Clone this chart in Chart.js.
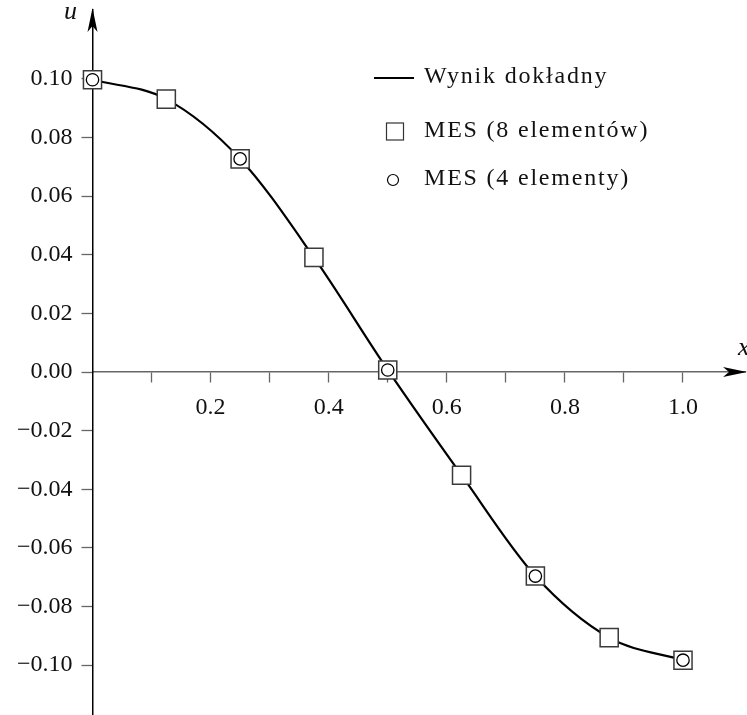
<!DOCTYPE html>
<html>
<head>
<meta charset="utf-8">
<script src="https://cdn.jsdelivr.net/npm/chart.js@4.4.1/dist/chart.umd.min.js"></script>
<style>
  html, body { margin: 0; padding: 0; background: #fff; }
  #wrap { width: 747px; height: 715px; }
</style>
</head>
<body>
<div id="wrap"><canvas id="c" width="747" height="715"></canvas></div>
<script>
// ---- data ----
const exactX = [0, 0.125, 0.25, 0.375, 0.5, 0.625, 0.75, 0.875, 1.0];
const exactU = [0.0997, 0.0931, 0.0727, 0.0391, 0.0007, -0.0352, -0.0696, -0.0906, -0.0983];
const fem8X = [0, 0.125, 0.25, 0.375, 0.5, 0.625, 0.75, 0.875, 1.0];
const fem8U = [0.0997, 0.0931, 0.0727, 0.0391, 0.0007, -0.0352, -0.0696, -0.0906, -0.0983];
const fem4X = [0, 0.25, 0.5, 0.75, 1.0];
const fem4U = [0.0997, 0.0727, 0.0007, -0.0696, -0.0983];
const xTicks = [0.1, 0.2, 0.3, 0.4, 0.5, 0.6, 0.7, 0.8, 0.9, 1.0];
const xTickLabels = ['', '0.2', '', '0.4', '', '0.6', '', '0.8', '', '1.0'];
const yTicks = [-0.10, -0.08, -0.06, -0.04, -0.02, 0.00, 0.02, 0.04, 0.06, 0.08, 0.10];
const legendLabels = ['Wynik dokładny', 'MES (8 elementów)', 'MES (4 elementy)'];

const FONT = "'Liberation Serif', 'DejaVu Serif', serif";
const pts = (xs, ys) => xs.map((x, i) => ({ x: x, y: ys[i] }));
const noPad = s => { s.paddingTop = 0; s.paddingBottom = 0; s.paddingLeft = 0; s.paddingRight = 0; };

const decor = {
  id: 'decor',
  afterDraw(chart) {
    const ctx = chart.ctx;
    const xs = chart.scales.x, ys = chart.scales.y;
    const ax = xs.getPixelForValue(0);
    const ay = ys.getPixelForValue(0);
    const top = chart.chartArea.top;
    const right = chart.chartArea.right;
    ctx.save();
    ctx.fillStyle = '#000';
    // y arrow (stealth)
    ctx.beginPath();
    ctx.moveTo(ax, top - 2);
    ctx.lineTo(ax + 5, top + 22);
    ctx.lineTo(ax, top + 16);
    ctx.lineTo(ax - 5, top + 22);
    ctx.closePath();
    ctx.fill();
    // x arrow
    ctx.beginPath();
    ctx.moveTo(right + 2, ay);
    ctx.lineTo(right - 22, ay - 5);
    ctx.lineTo(right - 16, ay);
    ctx.lineTo(right - 22, ay + 5);
    ctx.closePath();
    ctx.fill();
    // axis titles
    ctx.fillStyle = '#111';
    ctx.font = "italic 26px " + FONT;
    ctx.textBaseline = 'middle';
    ctx.textAlign = 'center';
    ctx.fillText('u', ax - 22, top + 2);
    ctx.textAlign = 'left';
    ctx.fillText('x', right - 7, ay - 24);

    // legend
    ctx.font = "24px " + FONT;
    ctx.fillStyle = '#111';
    ctx.textAlign = 'left';
    ctx.textBaseline = 'middle';
    try { ctx.letterSpacing = '1.8px'; } catch (e) {}
    const tx = 424;
    const rows = [77, 131, 179];
    ctx.strokeStyle = '#000';
    ctx.lineWidth = 2;
    ctx.beginPath();
    ctx.moveTo(374, rows[0] + 1);
    ctx.lineTo(414, rows[0] + 1);
    ctx.stroke();
    ctx.fillText(legendLabels[0], tx, rows[0]);
    ctx.strokeStyle = '#333';
    ctx.lineWidth = 1.2;
    ctx.strokeRect(386.5, rows[1] - 8, 17, 17);
    ctx.fillText(legendLabels[1], tx, rows[1]);
    ctx.strokeStyle = '#000';
    ctx.beginPath();
    ctx.arc(393, rows[2] + 1, 5.5, 0, Math.PI * 2);
    ctx.stroke();
    ctx.fillText(legendLabels[2], tx, rows[2]);
    ctx.restore();
  }
};

new Chart(document.getElementById('c'), {
  type: 'scatter',
  data: {
    datasets: [
      {
        label: legendLabels[0],
        data: pts(exactX, exactU),
        showLine: true,
        borderColor: '#000',
        borderWidth: 2.2,
        pointRadius: 0,
        cubicInterpolationMode: 'monotone',
        order: 3,
        clip: false
      },
      {
        label: legendLabels[1],
        data: pts(fem8X, fem8U),
        showLine: false,
        pointStyle: 'rect',
        pointRadius: 12.8,
        pointBackgroundColor: '#fff',
        pointBorderColor: '#3a3a3a',
        pointBorderWidth: 1.5,
        order: 2,
        clip: false
      },
      {
        label: legendLabels[2],
        data: pts(fem4X, fem4U),
        showLine: false,
        pointStyle: 'circle',
        pointRadius: 6.2,
        pointBackgroundColor: '#fff',
        pointBorderColor: '#000',
        pointBorderWidth: 1.3,
        order: 1,
        clip: false
      }
    ]
  },
  options: {
    responsive: false,
    animation: false,
    events: [],
    layout: { autoPadding: false, padding: { top: 10, right: 2, left: 0, bottom: 0 } },
    plugins: { legend: { display: false }, tooltip: { enabled: false } },
    scales: {
      x: {
        type: 'linear',
        position: { y: 0 },
        min: 0,
        max: 1.105,
        afterBuildTicks: s => { s.ticks = xTicks.map(v => ({ value: v })); },
        afterFit: s => { s.height = 0; noPad(s); },
        grid: { display: true, drawOnChartArea: false, drawTicks: true, tickLength: 10, tickColor: '#666', tickWidth: 1.3 },
        border: { display: true, color: '#666', width: 1.5 },
        ticks: {
          autoSkip: false,
          maxRotation: 0,
          padding: 11,
          color: '#111',
          font: { family: FONT, size: 24 },
          callback: (v) => { const i = xTicks.findIndex(t => Math.abs(t - v) < 1e-9); return i >= 0 ? xTickLabels[i] : ''; }
        }
      },
      y: {
        type: 'linear',
        position: 'left',
        min: -0.117,
        max: 0.1235,
        afterBuildTicks: s => { s.ticks = yTicks.map(v => ({ value: v })); },
        afterFit: s => { s.width = 92.5; noPad(s); },
        grid: { display: true, drawOnChartArea: false, drawTicks: true, tickLength: 11, tickColor: '#666', tickWidth: 1.3 },
        border: { display: true, color: '#000', width: 1.5 },
        ticks: {
          autoSkip: false,
          padding: 9,
          color: '#111',
          font: { family: FONT, size: 24 },
          callback: (v) => (v < 0 ? '\u2212' + Math.abs(v).toFixed(2) : v.toFixed(2))
        }
      }
    }
  },
  plugins: [decor]
});
</script>
</body>
</html>
